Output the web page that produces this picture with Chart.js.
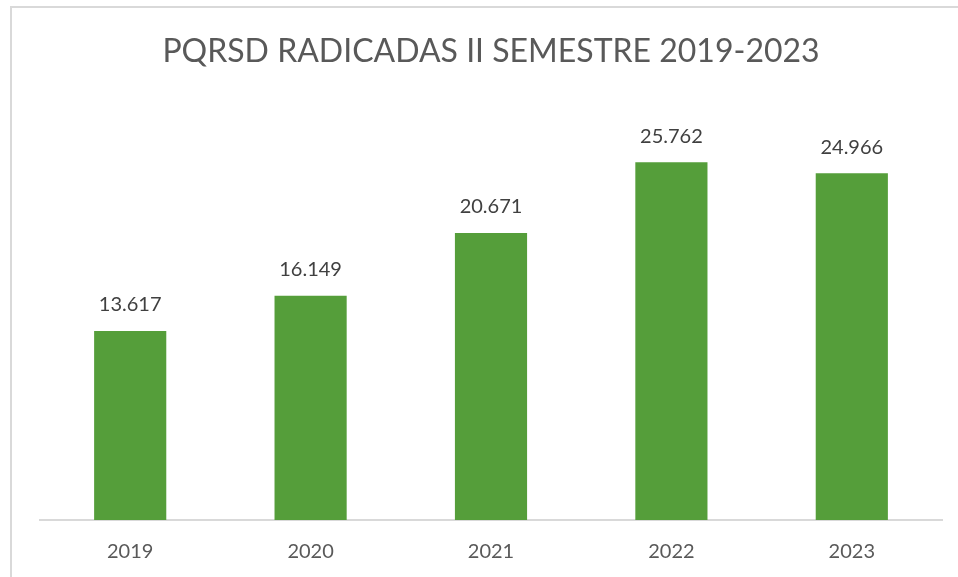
<!DOCTYPE html>
<html>
<head>
<meta charset="utf-8">
<script src="https://cdn.jsdelivr.net/npm/chart.js@4"></script>
<style>
  html, body { margin: 0; padding: 0; background: #fff; overflow: hidden; }
  #frame { position: absolute; left: 10px; top: 6px; width: 980px; height: 600px; border: 2px solid #d9d9d9; }
  #wrap { position: absolute; left: 0; top: 0; width: 958px; height: 577px; }
</style>
</head>
<body>
<div id="frame"></div>
<div id="wrap"><canvas id="pqrsdChart"></canvas></div>
<script>
const years = ['2019', '2020', '2021', '2022', '2023'];
const radicadas = [13617, 16149, 20671, 25762, 24966];

// etiquetas encima de cada barra, con punto de miles
const barLabels = {
    id: 'barLabels',
    afterDatasetsDraw(chart) {
        const ctx = chart.ctx;
        const meta = chart.getDatasetMeta(0);
        ctx.save();
        ctx.font = '20px Lato';
        ctx.fillStyle = '#404040';
        ctx.textAlign = 'center';
        ctx.textBaseline = 'middle';
        meta.data.forEach(function (bar, i) {
            const txt = radicadas[i].toLocaleString('de-DE');
            ctx.fillText(txt, bar.x, bar.y - 26);
        });
        ctx.restore();
    }
};

new Chart(document.getElementById('pqrsdChart'), {
    type: 'bar',
    data: {
        labels: years,
        datasets: [
            {
                label: 'PQRSD',
                data: radicadas,
                backgroundColor: '#559E3A',
                borderWidth: 0,
                categoryPercentage: 1,
                barPercentage: 0.4,
            },
        ],
    },
    options: {
        responsive: true,
        maintainAspectRatio: false,
        animation: false,
        layout: {
            padding: { left: 40, right: 16, top: 0, bottom: 15 },
        },
        plugins: {
            legend: { display: false },
            tooltip: { enabled: false },
            title: {
                display: true,
                text: 'PQRSD RADICADAS II SEMESTRE 2019-2023',
                color: '#595959',
                font: { family: 'Lato', size: 32, weight: 'normal' },
                padding: { top: 32, bottom: 33 },
            },
        },
        scales: {
            x: {
                grid: { display: false, drawTicks: false },
                border: { display: true, color: '#d9d9d9', width: 2 },
                ticks: {
                    color: '#595959',
                    font: { family: 'Lato', size: 20 },
                    padding: 20,
                },
                afterFit: function (scale) {
                    scale.height = 42;
                },
            },
            y: {
                display: false,
                min: 0,
                max: 30000,
            },
        },
    },
    plugins: [barLabels],
});
</script>
</body>
</html>
